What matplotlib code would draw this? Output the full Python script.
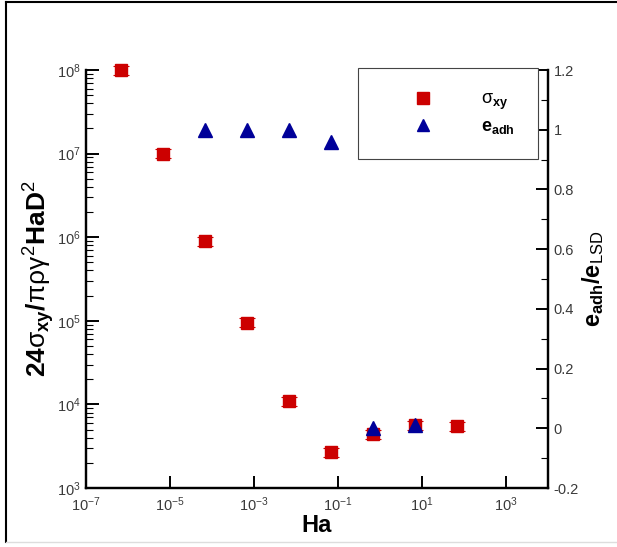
import matplotlib
matplotlib.use('Agg')
import matplotlib.pyplot as plt
from matplotlib.lines import Line2D
from matplotlib.ticker import LogLocator, NullFormatter, MultipleLocator, FixedLocator
import numpy as np

plt.rcParams['font.family'] = ['Liberation Sans', 'DejaVu Sans']
plt.rcParams['mathtext.fontset'] = 'custom'
plt.rcParams['mathtext.rm'] = 'Liberation Sans'
plt.rcParams['mathtext.it'] = 'Liberation Sans'
plt.rcParams['mathtext.bf'] = 'Liberation Sans:bold'

# ── Data ──
ha_sigma = [6.7e-7, 6.7e-6, 6.7e-5, 6.7e-4, 6.7e-3, 6.7e-2, 6.7e-1, 6.7, 67]
sigma_xy = [1.0e8, 1.0e7, 9.0e5, 9.5e4, 1.1e4, 2.7e3, 4.4e3, 5.6e3, 5.5e3]
ha_eadh = [6.7e-5, 6.7e-4, 6.7e-3, 6.7e-2, 6.7e-1, 6.7]
e_adh = [1.0, 1.0, 1.0, 0.96, 0.0, 0.01]
err_lo, err_hi = 0.12, 0.13   # relative error caps on sigma_xy

xticks = [1e-7, 1e-5, 1e-3, 1e-1, 1e1, 1e3]
rticks = [-0.2, 0, 0.2, 0.4, 0.6, 0.8, 1.0, 1.2]
rlabels = ['-0.2', '0', '0.2', '0.4', '0.6', '0.8', '1', '1.2']

red = '#cc0000'
blue = '#000099'
tick_col = '#3a3a3a'

fig = plt.figure(figsize=(6.17, 5.47), dpi=100)
ax = fig.add_axes([86/617, 1 - 488/547, 462/617, 418/547])
ax2 = ax.twinx()

# squares with small error caps
sig = np.array(sigma_xy)
ax.errorbar(ha_sigma, sigma_xy, yerr=[sig * err_lo, sig * err_hi], fmt='none',
            ecolor=red, elinewidth=0, capsize=6, capthick=0.8,
            clip_on=False, zorder=3)
ax.plot(ha_sigma, sigma_xy, 's', color=red, ms=9, mec=red,
        clip_on=False, zorder=3, label=r'$\sigma_{\mathbf{xy}}$')
ax2.plot(ha_eadh, e_adh, '^', color=blue, ms=9.5, mec=blue,
         clip_on=False, zorder=4, label=r'$\mathbf{e_{adh}}$')

ax.set_xscale('log')
ax.set_yscale('log')
ax.set_xlim(1e-7, 1e4)
ax.set_ylim(1e3, 1e8)
ax2.set_ylim(-0.2, 1.2)

ax.xaxis.set_major_locator(FixedLocator(xticks))
ax.xaxis.set_minor_locator(FixedLocator([]))
ax.xaxis.set_minor_formatter(NullFormatter())
ax.yaxis.set_major_locator(LogLocator(base=10, numticks=10))
ax.yaxis.set_minor_locator(LogLocator(base=10, subs=np.arange(2, 10), numticks=20))
ax.yaxis.set_minor_formatter(NullFormatter())
ax2.set_yticks(rticks)
ax2.set_yticklabels(rlabels)
ax2.yaxis.set_minor_locator(MultipleLocator(0.1))

for a in (ax, ax2):
    a.spines['top'].set_visible(False)
    for s in ('left', 'right', 'bottom'):
        a.spines[s].set_linewidth(1.6)
    a.tick_params(which='major', direction='in', length=9, width=1.4,
                  labelsize=10.5, labelcolor=tick_col, pad=4)
    a.tick_params(which='minor', direction='in', length=5, width=0.8)
ax.tick_params(axis='y', which='both', right=False)
ax.tick_params(axis='x', pad=5)

ax.set_xlabel('Ha', fontsize=17, fontweight='bold', labelpad=0)
ax.set_ylabel(r'$\mathbf{24}\sigma_{\mathbf{xy}}\mathbf{/}\pi\rho\gamma^{2}\mathbf{HaD}^{2}$',
              fontsize=19, labelpad=0)
ax2.set_ylabel(r'$\mathbf{e_{adh}/e}_{\mathrm{LSD}}$', fontsize=17, labelpad=1)

h1, l1 = ax.get_legend_handles_labels()
h2, l2 = ax2.get_legend_handles_labels()
leg = ax2.legend(h1 + h2, l1 + l2, loc='upper left',
                 bbox_to_anchor=((358 - 86) / 462, (488 - 68) / 418),
                 borderaxespad=0, fontsize=13, frameon=True, fancybox=False,
                 framealpha=1, edgecolor='#444444', borderpad=1.3,
                 handlelength=4.6, handletextpad=0.9, labelspacing=0.3,
                 numpoints=1, markerscale=0.9)
leg.get_frame().set_linewidth(0.8)

# figure border
fig.add_artist(Line2D([6/617, 6/617], [5/547, 545/547], color='black', lw=1.5))
fig.add_artist(Line2D([6/617, 1], [545/547, 545/547], color='black', lw=1.5))
fig.add_artist(Line2D([6/617, 1], [5/547, 5/547], color='#dddddd', lw=1))

fig.savefig('out.png', dpi=100)
